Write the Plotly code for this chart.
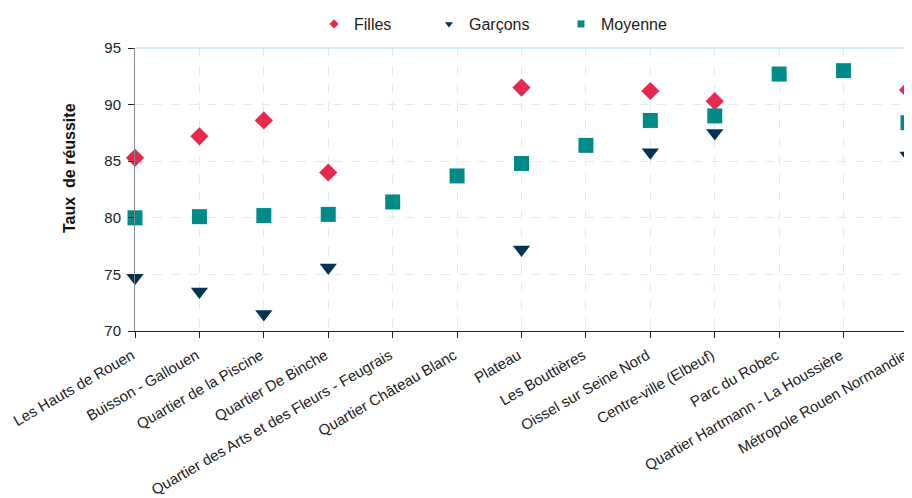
import plotly.graph_objects as go

categories = [
    "Les Hauts de Rouen", "Buisson - Gallouen", "Quartier de la Piscine",
    "Quartier De Binche", "Quartier des Arts et des Fleurs - Feugrais",
    "Quartier Château Blanc", "Plateau", "Les Bouttières",
    "Oissel sur Seine Nord", "Centre-ville (Elbeuf)", "Parc du Robec",
    "Quartier Hartmann - La Houssière", "Métropole Rouen Normandie",
]
filles = [85.3, 87.2, 88.6, 84.0, None, None, 91.5, None, 91.2, 90.3, None, None, 91.3]
garcons = [74.7, 73.5, 71.5, 75.6, None, None, 77.2, None, 85.8, 87.5, None, None, 85.5]
moyenne = [80.0, 80.1, 80.2, 80.3, 81.4, 83.7, 84.8, 86.4, 88.6, 89.0, 92.7, 93.0, 88.4]
y_ticks = [70, 75, 80, 85, 90, 95]
y_title = "Taux  de réussite"

FONT = "Liberation Sans, Arial, sans-serif"
C_F = "#E8294F"
C_G = "#013452"
C_M = "#008B8A"

xs = list(range(len(categories)))
fig = go.Figure()
series = [
    ("Filles", filles, C_F, "diamond", 14, "legend"),
    ("Garçons", garcons, C_G, "triangle-down", 15, "legend2"),
    ("Moyenne", moyenne, C_M, "square", 15, "legend3"),
]
for name, vals, col, sym, sz, lg in series:
    fig.add_trace(go.Scatter(
        x=xs, y=vals, mode="markers", name=name, showlegend=False,
        marker=dict(symbol=sym, size=sz, color=col, line=dict(width=0)),
        cliponaxis=False,
    ))
    fig.add_trace(go.Scatter(
        x=[None], y=[None], mode="markers", name=name, legend=lg,
        marker=dict(symbol=sym, size=7, color=col, line=dict(width=0)),
    ))

# page body has an 8px margin: figure origin sits at (8, 8)
L, T, PW, PH = 127, 40, 773, 283
leg_common = dict(orientation="h", yanchor="middle", xanchor="left",
                  font=dict(family=FONT, size=16, color="#222"),
                  bgcolor="rgba(0,0,0,0)", itemwidth=30, tracegroupgap=0)
LY = 1 + 24 / PH
fig.update_layout(
    width=904, height=490,
    margin=dict(l=L, r=4, t=T, b=167, autoexpand=False),
    paper_bgcolor="white", plot_bgcolor="white",
    font=dict(family=FONT, size=15, color="#222"),
    legend=dict(x=(306 - L) / PW, y=LY, **leg_common),
    legend2=dict(x=(421 - L) / PW, y=LY, **leg_common),
    legend3=dict(x=(553 - L) / PW, y=LY, **leg_common),
    xaxis=dict(
        range=[0, len(categories) - 1], automargin=False,
        tickmode="array", tickvals=xs, ticktext=categories,
        tickangle=-30, tickfont=dict(family=FONT, size=15, color="#222"),
        ticklabeloverflow="allow", ticklabelstandoff=3, ticklabelshift=-3,
        showgrid=True, gridcolor="#DCEBF7", griddash="dash", gridwidth=1,
        showline=True, linecolor="#222", linewidth=1,
        ticks="outside", ticklen=6, tickcolor="#222",
        zeroline=False,
    ),
    yaxis=dict(
        range=[70, 95], tickvals=y_ticks, automargin=False,
        tickfont=dict(family=FONT, size=15, color="#222"), ticklabelstandoff=4,
        showgrid=True, gridcolor="#DCEBF7", griddash="dash", gridwidth=1,
        showline=True, linecolor="#888", linewidth=1,
        ticks="outside", ticklen=6, tickcolor="#222",
        zeroline=False,
    ),
    annotations=[
        dict(text="<b>" + y_title + "</b>", xref="paper", yref="paper",
             x=(61 - L) / PW, y=1 - 120 / PH, xanchor="center", yanchor="middle",
             textangle=-90, showarrow=False,
             font=dict(family=FONT, size=16, color="#111")),
    ],
    shapes=[
        dict(type="line", xref="paper", yref="paper", x0=0, x1=1, y0=1, y1=1,
             line=dict(color="#CBE4F6", width=1.5), layer="below"),
        dict(type="line", xref="paper", yref="paper", x0=1, x1=1, y0=0, y1=1,
             line=dict(color="#CBE4F6", width=1.5), layer="below"),
    ],
)
fig.write_html("out.html")
